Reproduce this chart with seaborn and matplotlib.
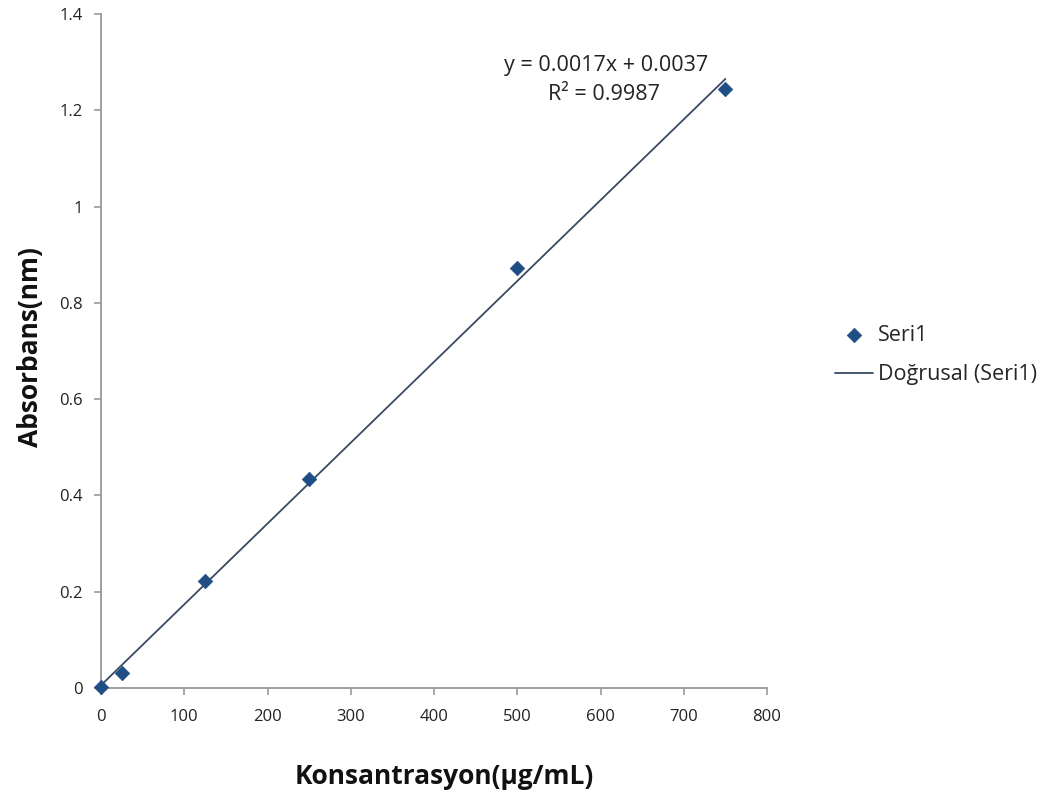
import numpy as np
import pandas as pd
import matplotlib
matplotlib.use("Agg")
import matplotlib.pyplot as plt
import seaborn as sns

# Data
concentration = [0, 25, 125, 250, 500, 750]
absorbance = [0.002, 0.031, 0.222, 0.434, 0.872, 1.244]
x_ticks = [0, 100, 200, 300, 400, 500, 600, 700, 800]
y_ticks = [0, 0.2, 0.4, 0.6, 0.8, 1.0, 1.2, 1.4]
y_tick_labels = ["0", "0.2", "0.4", "0.6", "0.8", "1", "1.2", "1.4"]
equation_text = "y = 0.0017x + 0.0037"
r2_text = "R² = 0.9987"
series_label = "Seri1"
trend_label = "Doğrusal (Seri1)"
x_label = "Konsantrasyon(µg/mL)"
y_label = "Absorbans(nm)"

sns.set_style("white")
plt.rcParams['font.family'] = ['Open Sans', 'DejaVu Sans']

df = pd.DataFrame({"x": concentration, "y": absorbance})
slope, intercept = np.polyfit(df["x"], df["y"], 1)
trend = pd.DataFrame({"x": [min(concentration), max(concentration)]})
trend["y"] = slope * trend["x"] + intercept

fig = plt.figure(figsize=(10.42, 7.96), dpi=100)
ax = fig.add_axes([101/1042, 1-688/796, (767-101)/1042, (688-14)/796])

sns.lineplot(data=trend, x="x", y="y", ax=ax, color="#3a4a63", linewidth=1.3,
             label=trend_label, zorder=2)
sns.scatterplot(data=df, x="x", y="y", ax=ax, marker="D", s=55, color="#1f4e84",
                edgecolor="#1f4e84", linewidth=0.5, label=series_label, zorder=3,
                clip_on=False)

ax.set_xlim(0, 800)
ax.set_ylim(0, 1.4)
ax.set_xticks(x_ticks)
ax.set_yticks(y_ticks)
ax.set_yticklabels(y_tick_labels)
ax.tick_params(axis="both", which="major", bottom=True, left=True, direction="out",
               length=5, width=1.2, color="#999999",
               labelsize=12, labelcolor="#222222")
ax.tick_params(axis="y", pad=8)
ax.tick_params(axis="x", pad=10)
for side in ["top", "right"]:
    ax.spines[side].set_visible(False)
for side in ["left", "bottom"]:
    ax.spines[side].set_color("#999999")
    ax.spines[side].set_linewidth(1.3)

ax.set_xlabel("")
ax.set_ylabel("")
fig.text(444/1042, 1-776/796, x_label, ha="center", va="center",
         fontsize=19, fontweight="bold", color="#111111")
fig.text(31/1042, 1-347/796, y_label, ha="center", va="center", rotation=90,
         fontsize=19, fontweight="bold", color="#111111")

ax.text(606/1042, 1-66/796, equation_text, transform=fig.transFigure,
        ha="center", va="center", fontsize=15.5, color="#222222")
ax.text(604/1042, 1-95/796, r2_text, transform=fig.transFigure,
        ha="center", va="center", fontsize=15.5, color="#222222")

handles, labels = ax.get_legend_handles_labels()
order = [labels.index(series_label), labels.index(trend_label)]
leg = ax.legend([handles[i] for i in order], [labels[i] for i in order],
                loc="center left", bbox_to_anchor=(816/1042, 1-355/796),
                bbox_transform=fig.transFigure, frameon=False, fontsize=15.5,
                handlelength=1.77, handletextpad=0.2, labelspacing=0.85)

fig.savefig("out.png", dpi=100, facecolor="white")
